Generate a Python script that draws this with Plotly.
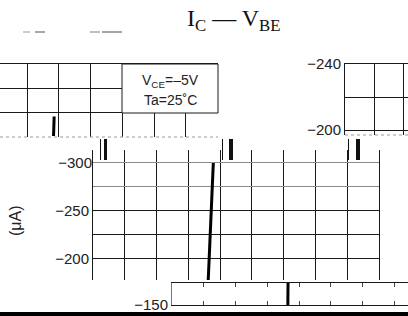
import plotly.graph_objects as go

W, H = 408, 316

# ---- data ----
# main panel: I_C (uA) vs V_BE (V)
main_vbe = [0.3626, 0.3657, 0.3685, 0.3713, 0.3748, 0.3786]
main_ic = [-178, -200, -225, -250, -275, -300]
main_ytick_vals = [-250, -225, -200]
main_ytick_text = ["\u2212250", "", "\u2212200"]
main_upper_ytick_vals = [-300, -275]
main_upper_ytick_text = ["\u2212300", ""]

# upper-left fragment
ul_vbe = [0.1835, 0.1855]
ul_ic = [-326, -346]
ul_ytick_vals = [-375, -350]

# upper-right fragment
ur_ytick_vals = [-240, -220, -200]
ur_ytick_text = ["\u2212240", "", "\u2212200"]

# bottom strip fragment
bs_vbe = [0.3645, 0.3652]
bs_ic = [-150, -173]
bs_ytick_vals = [-150]
bs_ytick_text = ["\u2212150"]

title_text = "I<sub>C</sub> \u2014 V<sub>BE</sub>"
cond_lines = ["V<sub>CE</sub>=\u20135V", "Ta=25\u02daC"]
y_unit = "(\u03bcA)"


def xd(px):
    return px / W


def yd(py):
    return 1 - py / H


PX_PER_V = 286 / 0.9
GRID = "#1a1a1a"
FONT = "Liberation Sans, Arial, sans-serif"

fig = go.Figure()

fig.add_trace(go.Scatter(x=main_vbe, y=main_ic, mode="lines",
                         line=dict(color="black", width=3), xaxis="x", yaxis="y",
                         showlegend=False, hoverinfo="skip"))
fig.add_trace(go.Scatter(x=ul_vbe, y=ul_ic, mode="lines",
                         line=dict(color="black", width=3), xaxis="x2", yaxis="y2",
                         showlegend=False, hoverinfo="skip"))
fig.add_trace(go.Scatter(x=bs_vbe, y=bs_ic, mode="lines",
                         line=dict(color="black", width=3), xaxis="x4", yaxis="y4",
                         showlegend=False, hoverinfo="skip"))
# invisible traces to activate the remaining axes
fig.add_trace(go.Scatter(x=[None], y=[None], xaxis="x3", yaxis="y3",
                         showlegend=False, hoverinfo="skip"))
fig.add_trace(go.Scatter(x=[None], y=[None], xaxis="x", yaxis="y5",
                         showlegend=False, hoverinfo="skip"))

common = dict(showgrid=True, gridcolor=GRID, gridwidth=1, zeroline=False,
              showline=True, linecolor=GRID, linewidth=1, ticks="",
              automargin=False,
              tickfont=dict(family=FONT, size=15, color="#222"))

ul_x0 = 0.1 - 27 / PX_PER_V
bs_x1 = (W - 172) / PX_PER_V
main_yrange = [-178.1, -313.5]

fig.update_layout(
    width=W, height=H, margin=dict(l=0, r=0, t=0, b=0, autoexpand=False),
    paper_bgcolor="white", plot_bgcolor="white",
    xaxis=dict(domain=[xd(93), xd(379)], range=[0, 0.9], dtick=0.1,
               showticklabels=False, anchor="y",
               **{**common, "showline": False}),
    yaxis=dict(domain=[yd(280), yd(150)], range=main_yrange,
               tickvals=main_ytick_vals, ticktext=main_ytick_text,
               anchor="x", mirror=True, **common),
    yaxis5=dict(domain=[yd(280), yd(150)], range=main_yrange,
                overlaying="y", side="left",
                tickvals=main_upper_ytick_vals, ticktext=main_upper_ytick_text,
                anchor="x", **{**common, "gridcolor": "#8a8a8a",
                               "showline": False}),
    xaxis2=dict(domain=[0, xd(218)], range=[ul_x0, ul_x0 + 218 / PX_PER_V],
                dtick=0.1, tick0=0, showticklabels=False, anchor="y2",
                side="top", **common),
    yaxis2=dict(domain=[yd(137), yd(64)], range=[-325, -400],
                tickvals=ul_ytick_vals, showticklabels=False, anchor="x2",
                **{**common, "showline": False}),
    xaxis3=dict(domain=[xd(345), 1], range=[0, 63 / 29], dtick=1,
                showticklabels=False, anchor="y3", side="top", **common),
    yaxis3=dict(domain=[yd(135), yd(64)], range=[-197, -240],
                tickvals=ur_ytick_vals, ticktext=ur_ytick_text,
                anchor="x3", **common),
    xaxis4=dict(domain=[xd(172), 1], range=[0, bs_x1], dtick=0.1,
                showticklabels=False, mirror="allticks", anchor="y4",
                **{**common, "showgrid": False, "ticks": "inside",
                   "ticklen": 4, "tickcolor": "#444"}),
    yaxis4=dict(domain=[yd(305), yd(283)], range=[-150, -172.5],
                tickvals=bs_ytick_vals, ticktext=bs_ytick_text,
                anchor="x4", mirror=True,
                **{**common, "showgrid": False, "linecolor": "#777"}),
)

shapes = [
    # condition box on upper-left fragment
    dict(type="rect", xref="paper", yref="paper", x0=xd(122), x1=xd(218),
         y0=yd(113), y1=yd(64), fillcolor="white",
         line=dict(color=GRID, width=1), layer="above"),
    # faint dotted lower edges of the upper fragments
    dict(type="line", xref="paper", yref="paper", x0=0, x1=xd(218),
         y0=yd(137), y1=yd(137), line=dict(color="#999", width=1, dash="dot")),
    dict(type="line", xref="paper", yref="paper", x0=xd(345), x1=1,
         y0=yd(135), y1=yd(135), line=dict(color="#999", width=1, dash="dot")),
    # black band at bottom edge
    dict(type="rect", xref="paper", yref="paper", x0=0, x1=1,
         y0=0, y1=yd(312), fillcolor="black", line=dict(width=0), layer="above"),
]
# scan artefacts: faint dashes near the top-left
for a, b, c in [(23, 30, "#bbbbbb"), (35, 45, "#888888"),
                (90, 100, "#aaaaaa"), (102, 122, "#888888")]:
    shapes.append(dict(type="line", xref="paper", yref="paper",
                       x0=xd(a), x1=xd(b), y0=yd(32), y1=yd(32),
                       line=dict(color=c, width=1.5)))
# scan artefacts: short dark bars between the fragments
for a, b in [(100, 101), (104, 107), (222, 223), (229, 233),
             (348, 349), (356, 360)]:
    shapes.append(dict(type="rect", xref="paper", yref="paper",
                       x0=xd(a), x1=xd(b), y0=yd(160), y1=yd(139),
                       fillcolor="#111", line=dict(width=0)))
fig.update_layout(shapes=shapes)

annotations = [
    dict(text=title_text, x=xd(234), y=yd(20), xref="paper", yref="paper",
         showarrow=False, xanchor="center", yanchor="middle",
         font=dict(family="Liberation Serif, Times New Roman, serif", size=24,
                   color="#111")),
    dict(text=cond_lines[0], x=xd(170), y=yd(81), xref="paper", yref="paper",
         showarrow=False, xanchor="center", yanchor="middle",
         font=dict(family=FONT, size=14, color="#222")),
    dict(text=cond_lines[1], x=xd(170), y=yd(100), xref="paper", yref="paper",
         showarrow=False, xanchor="center", yanchor="middle",
         font=dict(family=FONT, size=14, color="#222")),
    dict(text=y_unit, x=xd(16), y=yd(221), xref="paper", yref="paper",
         showarrow=False, textangle=-90, xanchor="center", yanchor="middle",
         font=dict(family=FONT, size=16, color="#222")),
]
fig.update_layout(annotations=annotations)

fig.write_html("out.html", config={"displayModeBar": False},
               post_script="document.body.style.margin='0';"
                           "document.body.style.overflow='hidden';")
